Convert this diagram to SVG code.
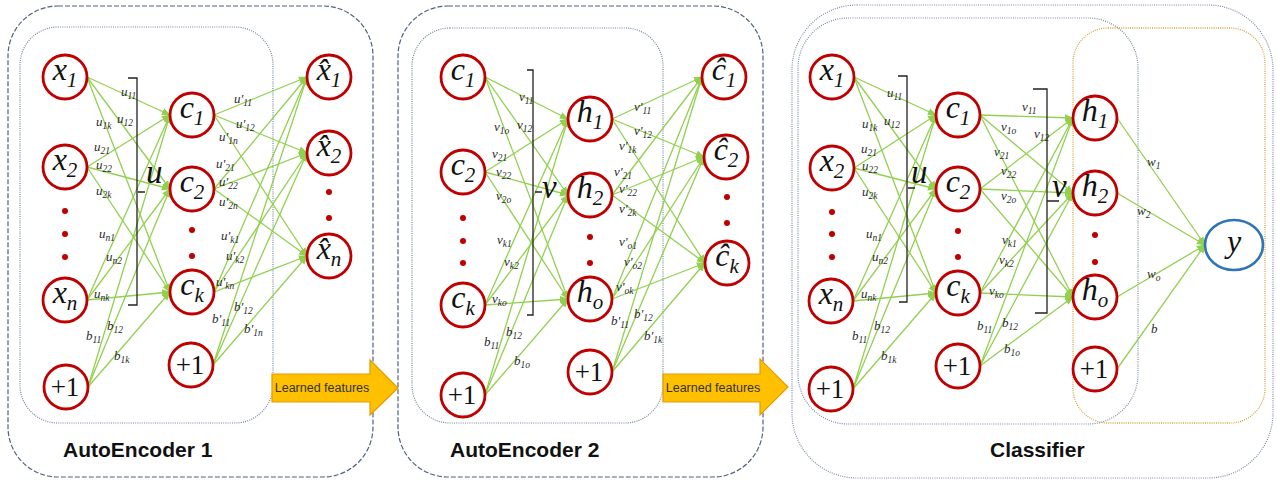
<svg xmlns="http://www.w3.org/2000/svg" width="1277" height="481" viewBox="0 0 1277 481">
<defs>
<style>
.po{fill:none;stroke:#50627f;stroke-width:1.2;stroke-dasharray:5 2}
.pi{fill:none;stroke:#7486a3;stroke-width:1.2;stroke-dasharray:1 1.2}
.pd{fill:none;stroke:#7d8da8;stroke-width:1.2;stroke-dasharray:1 1.2}
.po3{fill:none;stroke:#d4a640;stroke-width:1.3;stroke-dasharray:1 1.2}
.nd{fill:#fff;stroke:#c00000;stroke-width:2.8}
.nt{font-family:"Liberation Serif",serif;font-style:italic;font-size:32px;fill:#111;text-anchor:middle}
.ns{font-size:21px}
.np{font-family:"Liberation Serif",serif;font-size:27px;fill:#111;text-anchor:middle}
.dot{fill:#c00000}
.e{stroke:#92d050;stroke-width:1.3;fill:none;marker-end:url(#ah)}
.lb{font-family:"Liberation Serif",serif;font-style:italic;font-size:13px;fill:#2a2a2a}
.ls{font-size:9.5px}
.br{fill:none;stroke:#222;stroke-width:1.3}
.big{font-family:"Liberation Serif",serif;font-style:italic;font-size:33px;fill:#111}
.ti{font-family:"Liberation Sans",sans-serif;font-weight:bold;font-size:21px;fill:#111}
.ar{fill:#ffc000;stroke:#e29b00;stroke-width:1.2}
.at{font-family:"Liberation Sans",sans-serif;font-size:12.5px;fill:#333;text-anchor:middle}
</style>
<marker id="ah" viewBox="0 0 10 10" refX="9" refY="5" markerWidth="9" markerHeight="9" markerUnits="userSpaceOnUse" orient="auto"><path d="M0,1 L10,5 L0,9 z" fill="#92d050"/></marker>
</defs>
<rect width="1277" height="481" fill="#fff"/>

<g id="panels">
<rect class="po" x="8" y="6" width="365" height="471" rx="50"/>
<rect class="pi" x="20" y="27" width="253" height="396" rx="38"/>
<rect class="po" x="398" y="6" width="365" height="471" rx="50"/>
<rect class="pi" x="412" y="28" width="251" height="395" rx="38"/>
<rect class="pd" x="792" y="5" width="481" height="473" rx="65"/>
<rect class="pd" x="798" y="18" width="340" height="406" rx="50"/>
<rect class="po3" x="1073" y="28" width="192" height="395" rx="35"/>
</g>

<g id="connectors">
<line class="e" x1="87" y1="77" x2="170" y2="115"/><line class="e" x1="87" y1="77" x2="170" y2="189"/><line class="e" x1="87" y1="77" x2="170" y2="292"/>
<line class="e" x1="87" y1="167" x2="170" y2="115"/><line class="e" x1="87" y1="167" x2="170" y2="189"/><line class="e" x1="87" y1="167" x2="170" y2="292"/>
<line class="e" x1="87" y1="300" x2="170" y2="115"/><line class="e" x1="87" y1="300" x2="170" y2="189"/><line class="e" x1="87" y1="300" x2="170" y2="292"/>
<line class="e" x1="88" y1="387" x2="170" y2="115"/><line class="e" x1="88" y1="387" x2="170" y2="189"/><line class="e" x1="88" y1="387" x2="170" y2="292"/>
<line class="e" x1="214" y1="115" x2="307" y2="77"/><line class="e" x1="214" y1="115" x2="307" y2="153"/><line class="e" x1="214" y1="115" x2="307" y2="256"/>
<line class="e" x1="214" y1="189" x2="307" y2="77"/><line class="e" x1="214" y1="189" x2="307" y2="153"/><line class="e" x1="214" y1="189" x2="307" y2="256"/>
<line class="e" x1="214" y1="292" x2="307" y2="77"/><line class="e" x1="214" y1="292" x2="307" y2="153"/><line class="e" x1="214" y1="292" x2="307" y2="256"/>
<line class="e" x1="213" y1="365" x2="307" y2="77"/><line class="e" x1="213" y1="365" x2="307" y2="153"/><line class="e" x1="213" y1="365" x2="307" y2="256"/>

<line class="e" x1="485" y1="77" x2="568" y2="119"/><line class="e" x1="485" y1="77" x2="568" y2="195"/><line class="e" x1="485" y1="77" x2="568" y2="299"/>
<line class="e" x1="485" y1="172" x2="568" y2="119"/><line class="e" x1="485" y1="172" x2="568" y2="195"/><line class="e" x1="485" y1="172" x2="568" y2="299"/>
<line class="e" x1="485" y1="305" x2="568" y2="119"/><line class="e" x1="485" y1="305" x2="568" y2="195"/><line class="e" x1="485" y1="305" x2="568" y2="299"/>
<line class="e" x1="485" y1="395" x2="568" y2="119"/><line class="e" x1="485" y1="395" x2="568" y2="195"/><line class="e" x1="485" y1="395" x2="568" y2="299"/>
<line class="e" x1="612" y1="119" x2="702" y2="77"/><line class="e" x1="612" y1="119" x2="704" y2="157"/><line class="e" x1="612" y1="119" x2="705" y2="263"/>
<line class="e" x1="612" y1="195" x2="702" y2="77"/><line class="e" x1="612" y1="195" x2="704" y2="157"/><line class="e" x1="612" y1="195" x2="705" y2="263"/>
<line class="e" x1="612" y1="299" x2="702" y2="77"/><line class="e" x1="612" y1="299" x2="704" y2="157"/><line class="e" x1="612" y1="299" x2="705" y2="263"/>
<line class="e" x1="612" y1="372" x2="702" y2="77"/><line class="e" x1="612" y1="372" x2="704" y2="157"/><line class="e" x1="612" y1="372" x2="705" y2="263"/>

<line class="e" x1="854" y1="77" x2="936" y2="115"/><line class="e" x1="854" y1="77" x2="936" y2="189"/><line class="e" x1="854" y1="77" x2="936" y2="293"/>
<line class="e" x1="854" y1="168" x2="936" y2="115"/><line class="e" x1="854" y1="168" x2="936" y2="189"/><line class="e" x1="854" y1="168" x2="936" y2="293"/>
<line class="e" x1="853" y1="301" x2="936" y2="115"/><line class="e" x1="853" y1="301" x2="936" y2="189"/><line class="e" x1="853" y1="301" x2="936" y2="293"/>
<line class="e" x1="853" y1="389" x2="936" y2="115"/><line class="e" x1="853" y1="389" x2="936" y2="189"/><line class="e" x1="853" y1="389" x2="936" y2="293"/>
<line class="e" x1="980" y1="115" x2="1073" y2="118"/><line class="e" x1="980" y1="115" x2="1073" y2="193"/><line class="e" x1="980" y1="115" x2="1073" y2="297"/>
<line class="e" x1="980" y1="189" x2="1073" y2="118"/><line class="e" x1="980" y1="189" x2="1073" y2="193"/><line class="e" x1="980" y1="189" x2="1073" y2="297"/>
<line class="e" x1="980" y1="293" x2="1073" y2="118"/><line class="e" x1="980" y1="293" x2="1073" y2="193"/><line class="e" x1="980" y1="293" x2="1073" y2="297"/>
<line class="e" x1="980" y1="366" x2="1073" y2="118"/><line class="e" x1="980" y1="366" x2="1073" y2="193"/><line class="e" x1="980" y1="366" x2="1073" y2="297"/>
<line class="e" x1="1117" y1="118" x2="1205" y2="245"/><line class="e" x1="1117" y1="193" x2="1205" y2="245"/><line class="e" x1="1117" y1="297" x2="1205" y2="245"/><line class="e" x1="1117" y1="369" x2="1205" y2="245"/>
</g>

<g id="brackets">
<path class="br" d="M128,78 H137 V305 H128 M138,192 H145"/>
<text class="big" x="146" y="183">u</text>
<path class="br" d="M527,70 H533 V315 H527 M535,192 H542"/>
<text class="big" x="542" y="198">v</text>
<path class="br" d="M898,76 H907 V302 H899 M908,188 H915"/>
<text class="big" x="911" y="183">u</text>
<path class="br" d="M1033,89 H1047 V313 H1035 M1047,201 H1059"/>
<text class="big" x="1052" y="197">v</text>
</g>

<g id="edge-labels">
<text class="lb" x="121" y="96">u<tspan class="ls" dy="3">11</tspan></text>
<text class="lb" x="117" y="123">u<tspan class="ls" dy="3">12</tspan></text>
<text class="lb" x="96" y="126">u<tspan class="ls" dy="3">1k</tspan></text>
<text class="lb" x="94" y="151">u<tspan class="ls" dy="3">21</tspan></text>
<text class="lb" x="96" y="169">u<tspan class="ls" dy="3">22</tspan></text>
<text class="lb" x="96" y="195">u<tspan class="ls" dy="3">2k</tspan></text>
<text class="lb" x="99" y="238">u<tspan class="ls" dy="3">n1</tspan></text>
<text class="lb" x="106" y="261">u<tspan class="ls" dy="3">n2</tspan></text>
<text class="lb" x="94" y="298">u<tspan class="ls" dy="3">nk</tspan></text>
<text class="lb" x="86" y="340">b<tspan class="ls" dy="3">11</tspan></text>
<text class="lb" x="107" y="330">b<tspan class="ls" dy="3">12</tspan></text>
<text class="lb" x="114" y="360">b<tspan class="ls" dy="3">1k</tspan></text>
<text class="lb" x="234" y="103">u'<tspan class="ls" dy="3">11</tspan></text>
<text class="lb" x="236" y="128">u'<tspan class="ls" dy="3">12</tspan></text>
<text class="lb" x="219" y="141">u'<tspan class="ls" dy="3">1n</tspan></text>
<text class="lb" x="216" y="168">u'<tspan class="ls" dy="3">21</tspan></text>
<text class="lb" x="219" y="186">u'<tspan class="ls" dy="3">22</tspan></text>
<text class="lb" x="219" y="206">u'<tspan class="ls" dy="3">2n</tspan></text>
<text class="lb" x="221" y="240">u'<tspan class="ls" dy="3">k1</tspan></text>
<text class="lb" x="226" y="260">u'<tspan class="ls" dy="3">k2</tspan></text>
<text class="lb" x="216" y="286">u'<tspan class="ls" dy="3">kn</tspan></text>
<text class="lb" x="212" y="323">b'<tspan class="ls" dy="3">11</tspan></text>
<text class="lb" x="234" y="311">b'<tspan class="ls" dy="3">12</tspan></text>
<text class="lb" x="244" y="333">b'<tspan class="ls" dy="3">1n</tspan></text>

<text class="lb" x="519" y="101">v<tspan class="ls" dy="3">11</tspan></text>
<text class="lb" x="517" y="129">v<tspan class="ls" dy="3">12</tspan></text>
<text class="lb" x="494" y="131">v<tspan class="ls" dy="3">1o</tspan></text>
<text class="lb" x="492" y="158">v<tspan class="ls" dy="3">21</tspan></text>
<text class="lb" x="496" y="176">v<tspan class="ls" dy="3">22</tspan></text>
<text class="lb" x="496" y="200">v<tspan class="ls" dy="3">2o</tspan></text>
<text class="lb" x="497" y="244">v<tspan class="ls" dy="3">k1</tspan></text>
<text class="lb" x="504" y="266">v<tspan class="ls" dy="3">k2</tspan></text>
<text class="lb" x="492" y="303">v<tspan class="ls" dy="3">ko</tspan></text>
<text class="lb" x="484" y="346">b<tspan class="ls" dy="3">11</tspan></text>
<text class="lb" x="506" y="336">b<tspan class="ls" dy="3">12</tspan></text>
<text class="lb" x="514" y="365">b<tspan class="ls" dy="3">1o</tspan></text>
<text class="lb" x="634" y="111">v'<tspan class="ls" dy="3">11</tspan></text>
<text class="lb" x="634" y="135">v'<tspan class="ls" dy="3">12</tspan></text>
<text class="lb" x="619" y="150">v'<tspan class="ls" dy="3">1k</tspan></text>
<text class="lb" x="614" y="176">v'<tspan class="ls" dy="3">21</tspan></text>
<text class="lb" x="619" y="193">v'<tspan class="ls" dy="3">22</tspan></text>
<text class="lb" x="619" y="213">v'<tspan class="ls" dy="3">2k</tspan></text>
<text class="lb" x="619" y="246">v'<tspan class="ls" dy="3">o1</tspan></text>
<text class="lb" x="624" y="266">v'<tspan class="ls" dy="3">o2</tspan></text>
<text class="lb" x="616" y="291">v'<tspan class="ls" dy="3">ok</tspan></text>
<text class="lb" x="611" y="325">b'<tspan class="ls" dy="3">11</tspan></text>
<text class="lb" x="634" y="318">b'<tspan class="ls" dy="3">12</tspan></text>
<text class="lb" x="644" y="340">b'<tspan class="ls" dy="3">1k</tspan></text>

<text class="lb" x="887" y="97">u<tspan class="ls" dy="3">11</tspan></text>
<text class="lb" x="884" y="125">u<tspan class="ls" dy="3">12</tspan></text>
<text class="lb" x="862" y="128">u<tspan class="ls" dy="3">1k</tspan></text>
<text class="lb" x="861" y="153">u<tspan class="ls" dy="3">21</tspan></text>
<text class="lb" x="862" y="170">u<tspan class="ls" dy="3">22</tspan></text>
<text class="lb" x="862" y="196">u<tspan class="ls" dy="3">2k</tspan></text>
<text class="lb" x="866" y="238">u<tspan class="ls" dy="3">n1</tspan></text>
<text class="lb" x="872" y="261">u<tspan class="ls" dy="3">n2</tspan></text>
<text class="lb" x="861" y="298">u<tspan class="ls" dy="3">nk</tspan></text>
<text class="lb" x="852" y="340">b<tspan class="ls" dy="3">11</tspan></text>
<text class="lb" x="874" y="330">b<tspan class="ls" dy="3">12</tspan></text>
<text class="lb" x="881" y="360">b<tspan class="ls" dy="3">1k</tspan></text>
<text class="lb" x="1022" y="111">v<tspan class="ls" dy="3">11</tspan></text>
<text class="lb" x="1001" y="131">v<tspan class="ls" dy="3">1o</tspan></text>
<text class="lb" x="1034" y="138">v<tspan class="ls" dy="3">12</tspan></text>
<text class="lb" x="994" y="156">v<tspan class="ls" dy="3">21</tspan></text>
<text class="lb" x="1001" y="175">v<tspan class="ls" dy="3">22</tspan></text>
<text class="lb" x="1001" y="200">v<tspan class="ls" dy="3">2o</tspan></text>
<text class="lb" x="1002" y="244">v<tspan class="ls" dy="3">k1</tspan></text>
<text class="lb" x="999" y="264">v<tspan class="ls" dy="3">k2</tspan></text>
<text class="lb" x="989" y="295">v<tspan class="ls" dy="3">ko</tspan></text>
<text class="lb" x="977" y="330">b<tspan class="ls" dy="3">11</tspan></text>
<text class="lb" x="1002" y="327">b<tspan class="ls" dy="3">12</tspan></text>
<text class="lb" x="1004" y="353">b<tspan class="ls" dy="3">1o</tspan></text>
<text class="lb" x="1147" y="166">w<tspan class="ls" dy="3">1</tspan></text>
<text class="lb" x="1137" y="215">w<tspan class="ls" dy="3">2</tspan></text>
<text class="lb" x="1147" y="278">w<tspan class="ls" dy="3">o</tspan></text>
<text class="lb" x="1151" y="333">b</text>
</g>

<g id="arrows">
<g id="learned-1"><path class="ar" d="M272,374 H370 V360 L398,388 L370,415 V402 H272 Z"/><text class="at" x="322" y="392">Learned features</text></g>
<g id="learned-2"><path class="ar" d="M663,374 H760 V359 L788,387 L760,415 V402 H663 Z"/><text class="at" x="713" y="392">Learned features</text></g>
</g>

<g id="dots">
<circle class="dot" cx="65" cy="211" r="3"/><circle class="dot" cx="65" cy="234" r="3"/><circle class="dot" cx="65" cy="257" r="3"/>
<circle class="dot" cx="192" cy="230" r="3"/><circle class="dot" cx="192" cy="256" r="3"/>
<circle class="dot" cx="329" cy="192" r="3"/><circle class="dot" cx="329" cy="218" r="3"/>
<circle class="dot" cx="463" cy="218" r="3"/><circle class="dot" cx="463" cy="241" r="3"/><circle class="dot" cx="463" cy="263" r="3"/>
<circle class="dot" cx="590" cy="237" r="3"/><circle class="dot" cx="590" cy="263" r="3"/>
<circle class="dot" cx="727" cy="197" r="3"/><circle class="dot" cx="727" cy="223" r="3"/>
<circle class="dot" cx="832" cy="212" r="3"/><circle class="dot" cx="832" cy="234" r="3"/><circle class="dot" cx="832" cy="257" r="3"/>
<circle class="dot" cx="958" cy="231" r="3"/><circle class="dot" cx="958" cy="257" r="3"/>
<circle class="dot" cx="1095" cy="235" r="3"/><circle class="dot" cx="1095" cy="262" r="3"/>
</g>

<g id="p1-x1"><circle class="nd" cx="65" cy="77" r="22"/><text class="nt" x="65" y="80">x<tspan class="ns" dy="7">1</tspan></text></g>
<g id="p1-x2"><circle class="nd" cx="65" cy="167" r="22"/><text class="nt" x="65" y="170">x<tspan class="ns" dy="7">2</tspan></text></g>
<g id="p1-xn"><circle class="nd" cx="65" cy="300" r="22"/><text class="nt" x="65" y="303">x<tspan class="ns" dy="7">n</tspan></text></g>
<g id="p1-b1"><circle class="nd" cx="66" cy="387" r="22"/><text class="np" x="65" y="396">+1</text></g>
<g id="p1-c1"><circle class="nd" cx="192" cy="115" r="22"/><text class="nt" x="192" y="118">c<tspan class="ns" dy="7">1</tspan></text></g>
<g id="p1-c2"><circle class="nd" cx="192" cy="189" r="22"/><text class="nt" x="192" y="192">c<tspan class="ns" dy="7">2</tspan></text></g>
<g id="p1-ck"><circle class="nd" cx="192" cy="292" r="22"/><text class="nt" x="192" y="295">c<tspan class="ns" dy="7">k</tspan></text></g>
<g id="p1-b2"><circle class="nd" cx="191" cy="365" r="22"/><text class="np" x="190" y="374">+1</text></g>
<g id="p1-xh1"><circle class="nd" cx="329" cy="77" r="22"/><text class="nt" x="329" y="80">x&#x302;<tspan class="ns" dy="7">1</tspan></text></g>
<g id="p1-xh2"><circle class="nd" cx="329" cy="153" r="22"/><text class="nt" x="329" y="156">x&#x302;<tspan class="ns" dy="7">2</tspan></text></g>
<g id="p1-xhn"><circle class="nd" cx="329" cy="256" r="22"/><text class="nt" x="329" y="259">x&#x302;<tspan class="ns" dy="7">n</tspan></text></g>

<g id="p2-c1"><circle class="nd" cx="463" cy="77" r="22"/><text class="nt" x="463" y="80">c<tspan class="ns" dy="7">1</tspan></text></g>
<g id="p2-c2"><circle class="nd" cx="463" cy="172" r="22"/><text class="nt" x="463" y="175">c<tspan class="ns" dy="7">2</tspan></text></g>
<g id="p2-ck"><circle class="nd" cx="463" cy="305" r="22"/><text class="nt" x="463" y="308">c<tspan class="ns" dy="7">k</tspan></text></g>
<g id="p2-b1"><circle class="nd" cx="463" cy="395" r="22"/><text class="np" x="462" y="404">+1</text></g>
<g id="p2-h1"><circle class="nd" cx="590" cy="119" r="22"/><text class="nt" x="590" y="122">h<tspan class="ns" dy="7">1</tspan></text></g>
<g id="p2-h2"><circle class="nd" cx="590" cy="195" r="22"/><text class="nt" x="590" y="198">h<tspan class="ns" dy="7">2</tspan></text></g>
<g id="p2-ho"><circle class="nd" cx="590" cy="299" r="22"/><text class="nt" x="590" y="302">h<tspan class="ns" dy="7">o</tspan></text></g>
<g id="p2-b2"><circle class="nd" cx="590" cy="372" r="22"/><text class="np" x="589" y="381">+1</text></g>
<g id="p2-ch1"><circle class="nd" cx="724" cy="77" r="22"/><text class="nt" x="724" y="80">ĉ<tspan class="ns" dy="7">1</tspan></text></g>
<g id="p2-ch2"><circle class="nd" cx="726" cy="157" r="22"/><text class="nt" x="726" y="160">ĉ<tspan class="ns" dy="7">2</tspan></text></g>
<g id="p2-chk"><circle class="nd" cx="727" cy="263" r="22"/><text class="nt" x="727" y="266">ĉ<tspan class="ns" dy="7">k</tspan></text></g>

<g id="p3-x1"><circle class="nd" cx="832" cy="77" r="22"/><text class="nt" x="832" y="80">x<tspan class="ns" dy="7">1</tspan></text></g>
<g id="p3-x2"><circle class="nd" cx="832" cy="168" r="22"/><text class="nt" x="832" y="171">x<tspan class="ns" dy="7">2</tspan></text></g>
<g id="p3-xn"><circle class="nd" cx="831" cy="301" r="22"/><text class="nt" x="831" y="304">x<tspan class="ns" dy="7">n</tspan></text></g>
<g id="p3-b1"><circle class="nd" cx="831" cy="389" r="22"/><text class="np" x="830" y="398">+1</text></g>
<g id="p3-c1"><circle class="nd" cx="958" cy="115" r="22"/><text class="nt" x="958" y="118">c<tspan class="ns" dy="7">1</tspan></text></g>
<g id="p3-c2"><circle class="nd" cx="958" cy="189" r="22"/><text class="nt" x="958" y="192">c<tspan class="ns" dy="7">2</tspan></text></g>
<g id="p3-ck"><circle class="nd" cx="958" cy="293" r="22"/><text class="nt" x="958" y="296">c<tspan class="ns" dy="7">k</tspan></text></g>
<g id="p3-b2"><circle class="nd" cx="958" cy="366" r="22"/><text class="np" x="957" y="375">+1</text></g>
<g id="p3-h1"><circle class="nd" cx="1095" cy="118" r="22"/><text class="nt" x="1095" y="121">h<tspan class="ns" dy="7">1</tspan></text></g>
<g id="p3-h2"><circle class="nd" cx="1095" cy="193" r="22"/><text class="nt" x="1095" y="196">h<tspan class="ns" dy="7">2</tspan></text></g>
<g id="p3-ho"><circle class="nd" cx="1095" cy="297" r="22"/><text class="nt" x="1095" y="300">h<tspan class="ns" dy="7">o</tspan></text></g>
<g id="p3-b3"><circle class="nd" cx="1095" cy="369" r="22"/><text class="np" x="1094" y="378">+1</text></g>
<g id="p3-y"><ellipse cx="1234" cy="245" rx="29" ry="25" fill="#fff" stroke="#2e75b6" stroke-width="2.6"/><text class="nt" x="1234" y="252">y</text></g>

<g id="titles">
<text class="ti" x="63" y="457">AutoEncoder 1</text>
<text class="ti" x="450" y="457">AutoEncoder 2</text>
<text class="ti" x="990" y="457">Classifier</text>
</g>
</svg>
